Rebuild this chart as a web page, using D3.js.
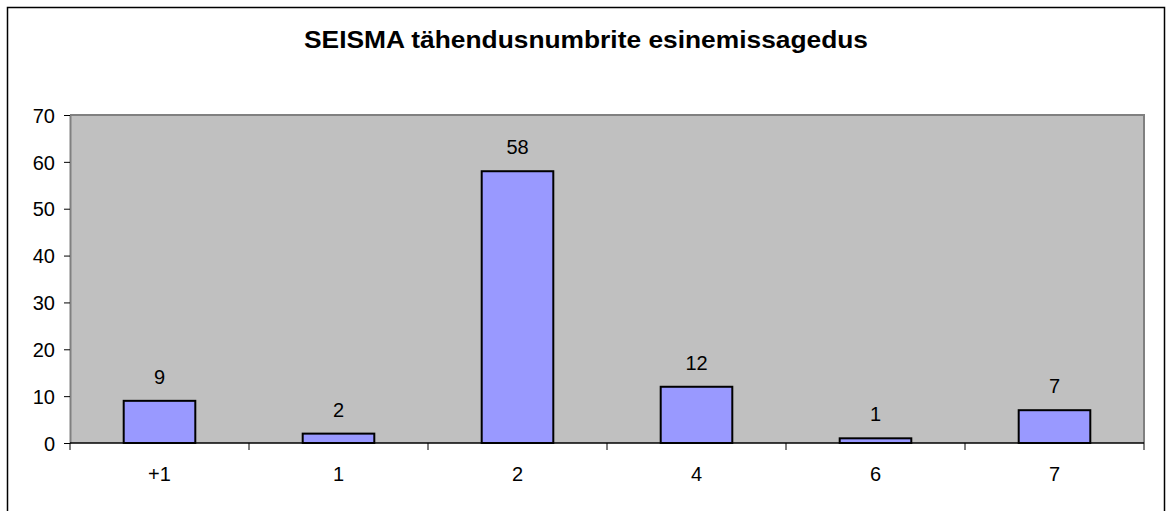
<!DOCTYPE html>
<html>
<head>
<meta charset="utf-8">
<script src="https://cdn.jsdelivr.net/npm/d3@7"></script>
<style>
  html, body { margin: 0; padding: 0; background: #fff; }
  svg { display: block; }
  text { font-family: "Liberation Sans", Arial, sans-serif; fill: #000; }
</style>
</head>
<body>
<svg id="chart" width="1173" height="511"></svg>
<script>
// Frequency of SEISMA meaning numbers
const categories = ["+1", "1", "2", "4", "6", "7"];
const counts = [9, 2, 58, 12, 1, 7];
const yTicks = [0, 10, 20, 30, 40, 50, 60, 70];
const chartTitle = "SEISMA tähendusnumbrite esinemissagedus";

const plot = { left: 70, top: 115, right: 1144, bottom: 443 };
const labelSize = "20px";

const svg = d3.select("#chart");

// Outer chart frame
svg.append("rect")
  .attr("x", 7.5).attr("y", 7.5)
  .attr("width", 1157).attr("height", 510)
  .attr("fill", "#fff").attr("stroke", "#000").attr("stroke-width", 1.5);

svg.append("text")
  .attr("x", 586).attr("y", 48)
  .attr("text-anchor", "middle")
  .attr("textLength", 564)
  .attr("lengthAdjust", "spacingAndGlyphs")
  .style("font-size", "24px").style("font-weight", "bold")
  .text(chartTitle);

const x = d3.scaleBand()
  .domain(categories)
  .range([plot.left, plot.right])
  .paddingInner(0.6).paddingOuter(0.3);

const y = d3.scaleLinear()
  .domain([0, 70])
  .range([plot.bottom, plot.top]);

// Plot area background
svg.append("rect")
  .attr("x", plot.left).attr("y", plot.top)
  .attr("width", plot.right - plot.left).attr("height", plot.bottom - plot.top)
  .attr("fill", "#c0c0c0");

// Plot border (top and right), grey
svg.append("path")
  .attr("d", `M${plot.left},${plot.top} H${plot.right} V${plot.bottom}`)
  .attr("fill", "none").attr("stroke", "#808080").attr("stroke-width", 2);

// Bars
svg.append("g").selectAll("rect")
  .data(counts)
  .join("rect")
  .attr("x", (d, i) => x(categories[i]))
  .attr("y", d => y(d))
  .attr("width", x.bandwidth())
  .attr("height", d => y(0) - y(d))
  .attr("fill", "#9999ff")
  .attr("stroke", "#000").attr("stroke-width", 2);

// Value labels
svg.append("g").selectAll("text")
  .data(counts)
  .join("text")
  .attr("x", (d, i) => x(categories[i]) + x.bandwidth() / 2)
  .attr("y", d => y(d) - 17)
  .attr("text-anchor", "middle")
  .style("font-size", labelSize)
  .text(d => d);

// Y axis
const yAxis = svg.append("g")
  .attr("transform", `translate(${plot.left},0)`)
  .call(d3.axisLeft(y).tickValues(yTicks).tickSize(6).tickPadding(9).tickSizeOuter(0));
yAxis.select(".domain").attr("stroke", "#808080").attr("stroke-width", 2);
yAxis.selectAll(".tick line").attr("stroke", "#000");
yAxis.selectAll(".tick text")
  .style("font-size", labelSize)
  .attr("font-family", null)
  .attr("dy", "0.36em");

// X axis with ticks at category boundaries
const xAxisG = svg.append("g")
  .attr("transform", `translate(0,${plot.bottom})`);
xAxisG.append("line")
  .attr("x1", plot.left).attr("x2", plot.right)
  .attr("stroke", "#000").attr("stroke-width", 1.5);
const boundaries = d3.range(categories.length + 1)
  .map(i => plot.left + i * (plot.right - plot.left) / categories.length);
xAxisG.selectAll("line.tk")
  .data(boundaries)
  .join("line").attr("class", "tk")
  .attr("x1", d => d).attr("x2", d => d)
  .attr("y1", 0).attr("y2", 7)
  .attr("stroke", "#000").attr("stroke-width", 1);
xAxisG.selectAll("text")
  .data(categories)
  .join("text")
  .attr("x", d => x(d) + x.bandwidth() / 2)
  .attr("y", 38)
  .attr("text-anchor", "middle")
  .style("font-size", labelSize)
  .text(d => d);
</script>
</body>
</html>
